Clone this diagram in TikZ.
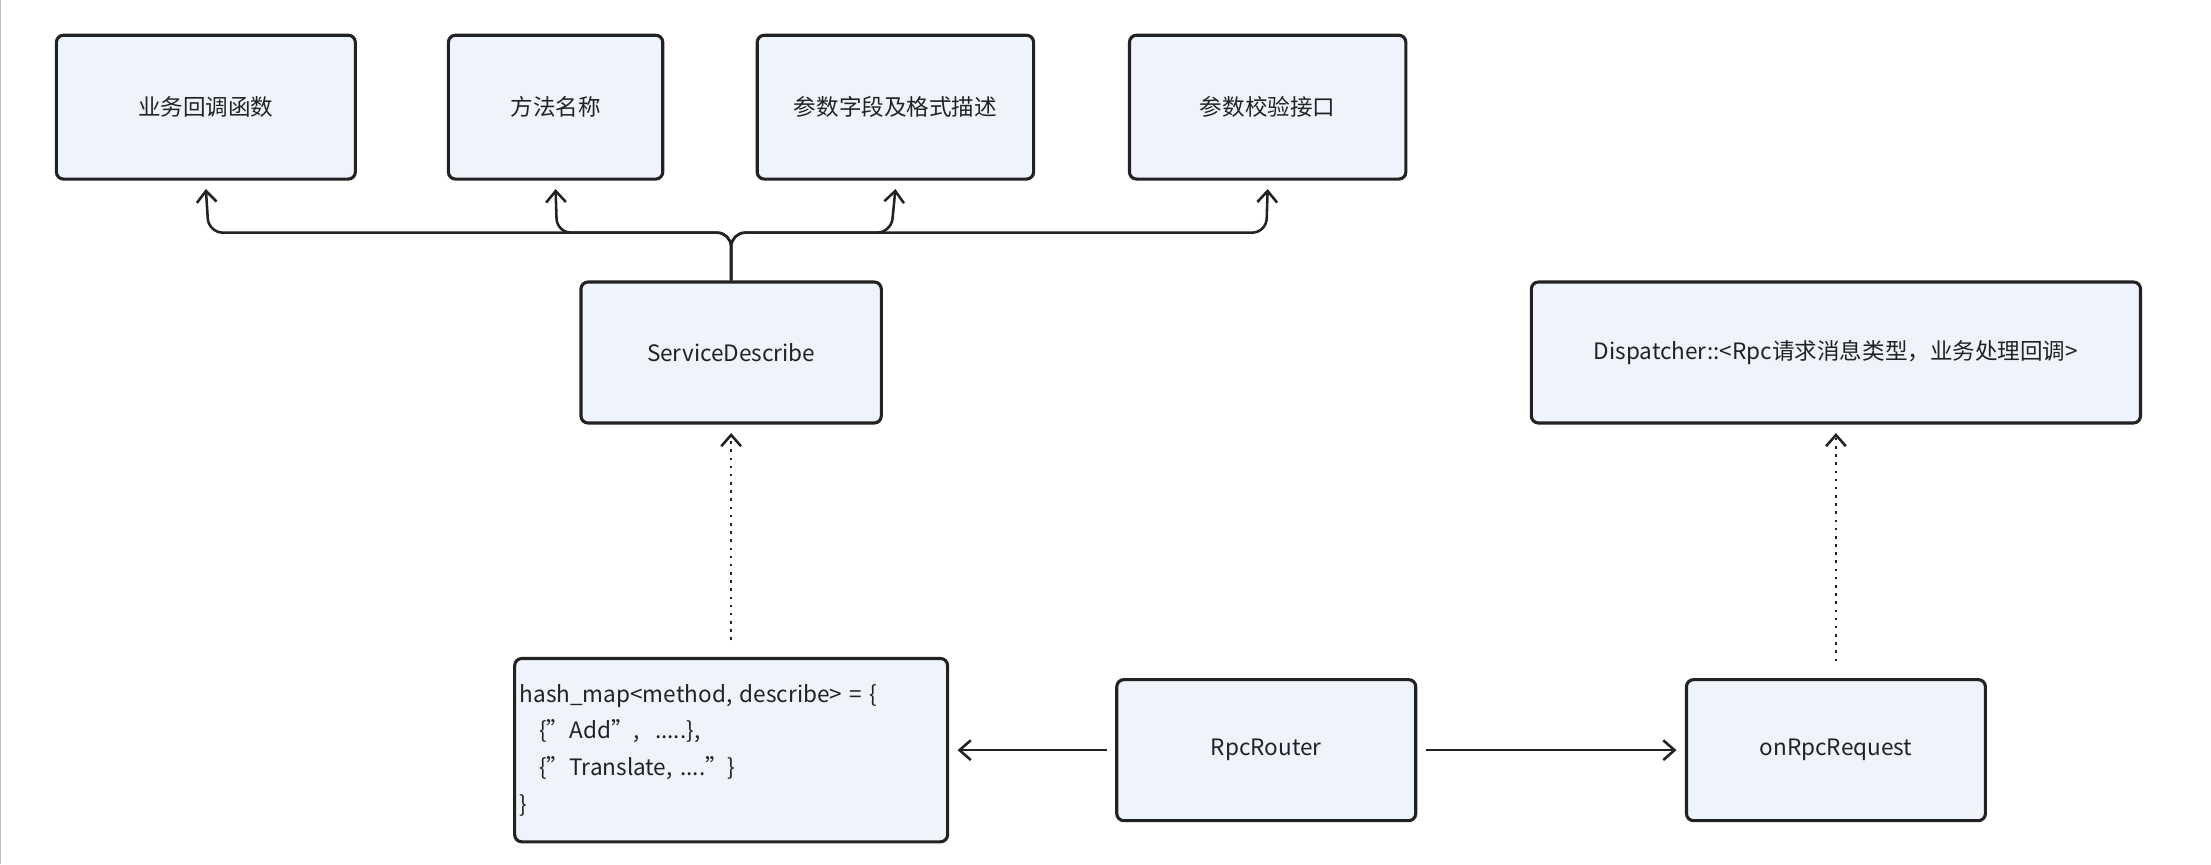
\documentclass[tikz,border=0pt]{standalone}
\usepackage{fontspec}
\setmainfont{Noto Sans CJK SC}
\usetikzlibrary{arrows.meta}
\definecolor{boxfill}{HTML}{EFF4FC}
\definecolor{ink}{HTML}{222222}
\begin{document}
\begin{tikzpicture}[x=0.5pt,y=-0.5pt,
  box/.style={draw=ink,line width=1.1pt,fill=boxfill,rounded corners=2.5pt,inner sep=0pt,font=\fontsize{8}{12}\selectfont,text=ink},
  conn/.style={draw=ink,line width=0.9pt,-{Straight Barb[length=4pt,width=7pt]}},
  dotc/.style={conn,dotted}]
\useasboundingbox (0,0) rectangle (1568,613);
\fill[white] (0,0) rectangle (1568,613);
\draw[gray!50,line width=0.5pt] (0.5,0) -- (0.5,613);
\node[box,minimum width=106pt,minimum height=51pt] (b1) at (146,76) {业务回调函数};
\node[box,minimum width=76pt,minimum height=51pt] (b2) at (394,76) {方法名称};
\node[box,minimum width=98pt,minimum height=51pt] (b3) at (635,76) {参数字段及格式描述};
\node[box,minimum width=98pt,minimum height=51pt] (b4) at (899,76) {参数校验接口};
\node[box,minimum width=106.5pt,minimum height=50pt] (sd) at (518.5,250) {ServiceDescribe};
\node[box,minimum width=216pt,minimum height=50pt] (disp) at (1302,250) {Dispatcher::<Rpc请求消息类型，业务处理回调>};
\node[box,minimum width=153.5pt,minimum height=65pt,text width=150pt,align=left,font=\fontsize{8}{13}\selectfont] (hash) at (518.5,532) {hash\_map<method, describe> = \{\\\hspace*{7pt}\{"Add",\ \ .....\},\\\hspace*{7pt}\{"Translate, ...."\}\\\}};
\node[box,minimum width=106pt,minimum height=50pt] (rr) at (898,532) {RpcRouter};
\node[box,minimum width=106pt,minimum height=50pt] (on) at (1302,532) {onRpcRequest};
\foreach \b/\x in {b1/148,b2/395,b3/632,b4/898}
  \draw[conn,rounded corners=5pt] (sd.north) |- (\x,165) -- ([yshift=-3pt]\b.south);
\draw[dotc,shorten <=6pt,shorten >=3pt] (hash.north) -- (sd.south);
\draw[dotc,shorten <=6pt,shorten >=3pt] (on.north) -- (disp.south);
\draw[conn,shorten <=3pt,shorten >=3pt] (rr.west) -- (hash.east);
\draw[conn,shorten <=3pt,shorten >=3pt] (rr.east) -- (on.west);
\end{tikzpicture}
\end{document}
